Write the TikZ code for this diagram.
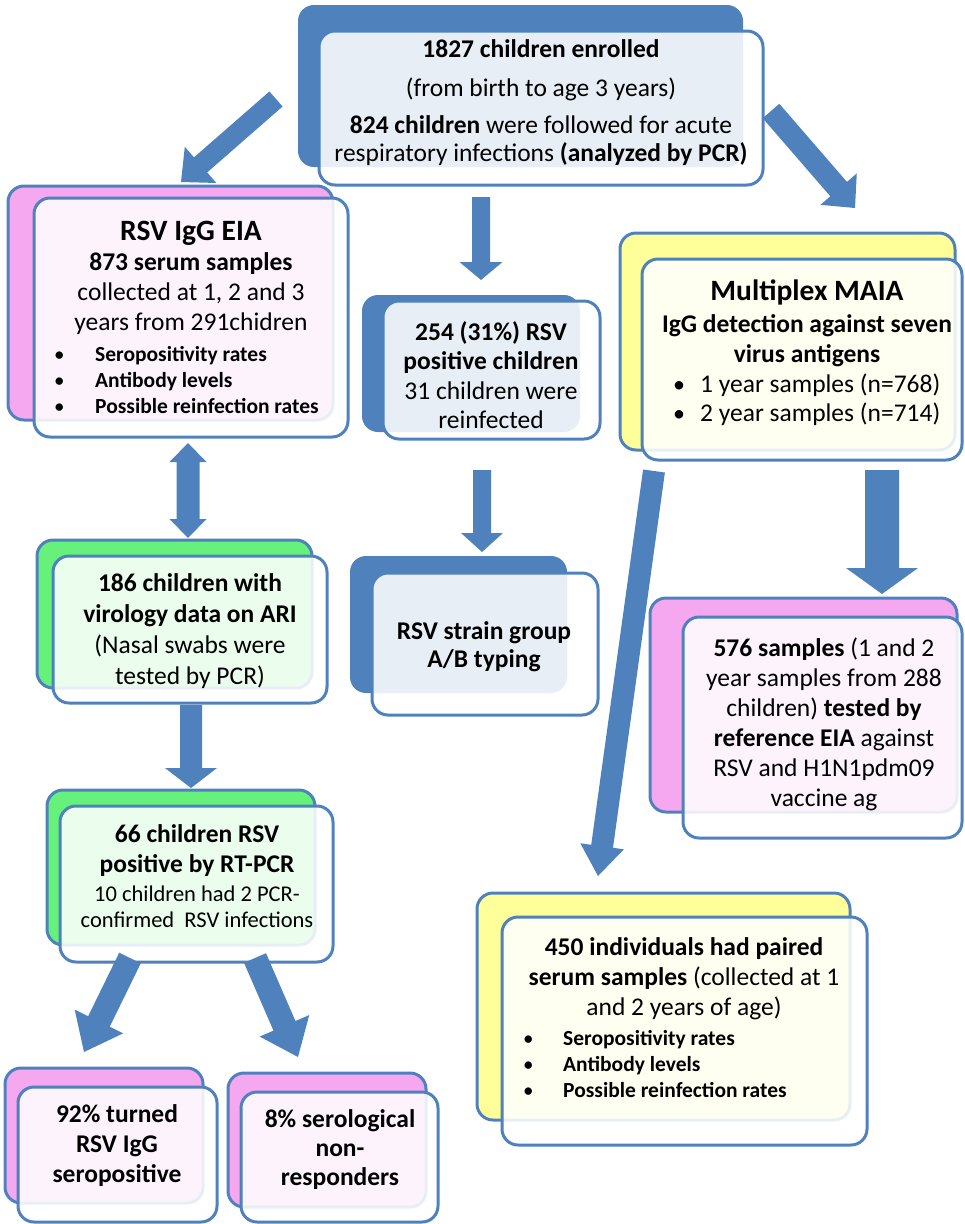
\documentclass[tikz,border=0pt]{standalone}
\usepackage{fontspec}
\setmainfont{Carlito}
\usetikzlibrary{calc}
\definecolor{bblue}{RGB}{79,129,189}
\definecolor{bpink}{RGB}{245,168,240}
\definecolor{bgreen}{RGB}{102,242,122}
\definecolor{byellow}{RGB}{255,255,153}
\tikzset{
  backbox/.style={draw=bblue, line width=3pt, rounded corners=16pt},
  solidback/.style={fill=bblue, rounded corners=16pt},
  frontbox/.style={draw=bblue, line width=3pt, rounded corners=16pt, fill=white, fill opacity=0.87},
  txt/.style={inner sep=0pt, align=center, font=\fontsize{25.5}{29}\selectfont},
  ttl/.style={inner sep=0pt, align=center, font=\bfseries\fontsize{29.5}{32}\selectfont},
  bul/.style={inner sep=0pt, anchor=west, align=left, font=\bfseries\fontsize{21.5}{26}\selectfont},
}
\newcommand\bdot{{\fontsize{21}{21}\selectfont\normalfont •}}
\newcommand\bdotb{{\fontsize{24}{24}\selectfont\normalfont •}}
\newcommand\blkarrow[5]{%
  \coordinate (bahd) at ($(#2)!#5!(#1)$);
  \fill[bblue] ($(#1)!#3!90:(#2)$) -- ($(bahd)!#3!90:(#2)$) -- ($(bahd)!#4!90:(#2)$) -- (#2)
    -- ($(bahd)!#4!-90:(#2)$) -- ($(bahd)!#3!-90:(#2)$) -- ($(#1)!#3!-90:(#2)$) -- cycle;}
\newcommand\dblarrow[5]{%
  \coordinate (dbha) at ($(#1)!#5!(#2)$);
  \coordinate (dbhb) at ($(#2)!#5!(#1)$);
  \fill[bblue] (#1) -- ($(dbha)!#4!90:(#2)$) -- ($(dbha)!#3!90:(#2)$) -- ($(dbhb)!#3!90:(#2)$)
    -- ($(dbhb)!#4!90:(#2)$) -- (#2) -- ($(dbhb)!#4!-90:(#2)$) -- ($(dbhb)!#3!-90:(#2)$)
    -- ($(dbha)!#3!-90:(#2)$) -- ($(dbha)!#4!-90:(#2)$) -- cycle;}
\begin{document}
\begin{tikzpicture}[x=1pt,y=-1pt]
\useasboundingbox (0,0) rectangle (965,1224);
% ---------- boxes ----------
% top
\fill[solidback] (298,5) rectangle (743,167);
\draw[frontbox] (319,31) rectangle (763,185);
% RSV IgG EIA
\draw[backbox, fill=bpink] (8,186) rectangle (333,420);
\draw[frontbox] (34,198) rectangle (348,437);
% Multiplex MAIA
\draw[backbox, fill=byellow] (620,233) rectangle (955,450);
\draw[frontbox] (642,259) rectangle (962,460);
% 254
\fill[solidback] (362,295) rectangle (580,432);
\draw[frontbox] (383,301) rectangle (600,439);
% strain
\fill[solidback] (350,556) rectangle (567,693);
\draw[frontbox] (372,573) rectangle (598,715);
% 186
\draw[backbox, fill=bgreen] (37,540) rectangle (312,688);
\draw[frontbox] (53,556) rectangle (327,703);
% 66
\draw[backbox, fill=bgreen] (47,790) rectangle (315,945);
\draw[frontbox] (60,806) rectangle (333,962);
% 576
\draw[backbox, fill=bpink] (650,598) rectangle (957,812);
\draw[frontbox] (683,617) rectangle (962,838);
% 450
\draw[backbox, fill=byellow] (477,893) rectangle (850,1120);
\draw[frontbox] (502,917) rectangle (867,1145);
% 92%
\draw[backbox, fill=bpink] (5,1068) rectangle (203,1203);
\draw[frontbox] (18,1087) rectangle (217,1222);
% 8%
\draw[backbox, fill=bpink] (228,1073) rectangle (426,1207);
\draw[frontbox] (241,1092) rectangle (438,1222);
% ---------- texts ----------
\node[txt, font=\fontsize{25.5}{28}\selectfont] (tTop) at (541,103) {\textbf{1827 children enrolled}\\[11pt](from birth to age 3 years)\\[9pt]\textbf{824 children} were followed for acute\\respiratory infections \textbf{(analyzed by PCR)}};
\node[ttl] (tEIA) at (191,233) {RSV IgG EIA};
\node[txt, font=\fontsize{25.5}{30}\selectfont] (tEIAb) at (191,294) {\textbf{873 serum samples}\\collected at 1, 2 and 3\\years from 291chidren};
\node[bul] (tEIAc) at (54,380) {\makebox[41pt][l]{\bdot}Seropositivity rates\\\makebox[41pt][l]{\bdot}Antibody levels\\\makebox[41pt][l]{\bdot}Possible reinfection rates};
\node[ttl] (tMAIA) at (807,292) {Multiplex MAIA};
\node[txt, font=\bfseries\fontsize{25.5}{30}\selectfont] (tMAIAb) at (807,341) {IgG detection against seven\\virus antigens};
\node[txt, anchor=west, align=left, font=\fontsize{25.5}{29}\selectfont] (tMAIAc) at (673,400) {\makebox[27pt][l]{\bdotb}1 year samples (n=768)\\\makebox[27pt][l]{\bdotb}2 year samples (n=714)};
\node[txt, font=\fontsize{25.5}{29.5}\selectfont] (t254) at (491,375) {\textbf{254 (31\%) RSV}\\\textbf{positive children}\\31 children were\\reinfected};
\node[txt, font=\bfseries\fontsize{25.5}{28}\selectfont] (tStrain) at (484,647) {RSV strain group\\A/B typing};
\node[txt, font=\fontsize{25.5}{31}\selectfont] (t186) at (190,631) {\textbf{186 children with}\\\textbf{virology data on ARI}\\(Nasal swabs were\\tested by PCR)};
\node[txt, font=\bfseries\fontsize{25.5}{30}\selectfont] (t66) at (197,851) {66 children RSV\\positive by RT-PCR};
\node[txt, font=\fontsize{22.5}{26}\selectfont] (t66b) at (197,907) {10 children had 2 PCR-\\confirmed\ \ RSV infections};
\node[txt, font=\fontsize{25.5}{30}\selectfont] (t576) at (824,724) {\textbf{576 samples} (1 and 2\\year samples from 288\\children) \textbf{tested by}\\\textbf{reference EIA} against\\RSV and H1N1pdm09\\vaccine ag};
\node[txt, font=\fontsize{25.5}{30}\selectfont] (t450) at (684,979) {\textbf{450 individuals had paired}\\\textbf{serum samples} (collected at 1\\and 2 years of age)};
\node[bul] (t450b) at (523,1064) {\makebox[40pt][l]{\bdot}Seropositivity rates\\\makebox[40pt][l]{\bdot}Antibody levels\\\makebox[40pt][l]{\bdot}Possible reinfection rates};
\node[txt, font=\bfseries\fontsize{25.5}{30}\selectfont] (t92) at (117,1146) {92\% turned\\RSV IgG\\seropositive};
\node[txt, font=\bfseries\fontsize{25.5}{29}\selectfont] (t8) at (340,1150) {8\% serological\\non-\\responders};
% ---------- arrows ----------
\coordinate (a1s) at (276,99);  \coordinate (a1e) at (181,182);
\coordinate (a2s) at (771,111); \coordinate (a2e) at (855,208);
\coordinate (a3s) at (481,197); \coordinate (a3e) at (481,280);
\coordinate (a4s) at (482,470); \coordinate (a4e) at (482,552);
\coordinate (dAs) at (188,443); \coordinate (dAe) at (188,538);
\coordinate (a5s) at (191,705); \coordinate (a5e) at (191,788);
\coordinate (a6s) at (882,470); \coordinate (a6e) at (882,594);
\coordinate (a7s) at (654,471); \coordinate (a7e) at (598,876);
\coordinate (a8s) at (130,958); \coordinate (a8e) at (84,1052);
\coordinate (a9s) at (255,958); \coordinate (a9e) at (298,1057);
\blkarrow{a1s}{a1e}{10pt}{24pt}{26pt}
\blkarrow{a2s}{a2e}{11pt}{24pt}{25pt}
\blkarrow{a3s}{a3e}{9pt}{21.5pt}{18pt}
\blkarrow{a4s}{a4e}{9pt}{21pt}{19pt}
\dblarrow{dAs}{dAe}{11.5pt}{18.5pt}{19pt}
\blkarrow{a5s}{a5e}{11pt}{26pt}{20pt}
\blkarrow{a6s}{a6e}{17pt}{36pt}{26pt}
\blkarrow{a7s}{a7e}{11pt}{22pt}{30pt}
\blkarrow{a8s}{a8e}{12pt}{27pt}{34pt}
\blkarrow{a9s}{a9e}{12pt}{27pt}{34pt}
\end{tikzpicture}
\end{document}
